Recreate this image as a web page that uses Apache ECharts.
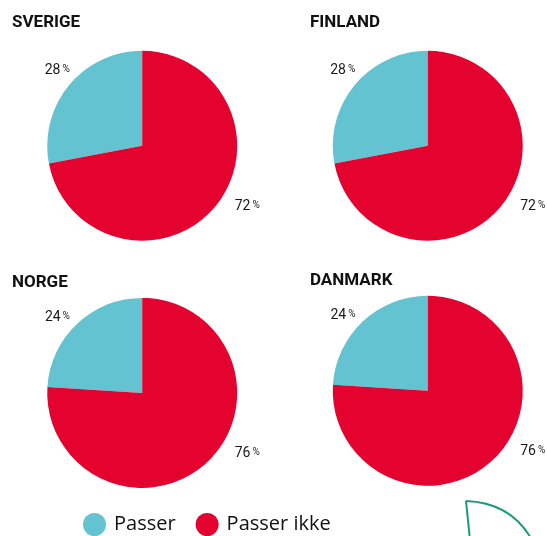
<!DOCTYPE html>
<html>
<head>
<meta charset="utf-8">
<style>
  html, body { margin: 0; padding: 0; background: #ffffff; }
  #chart { width: 547px; height: 536px; }
</style>
<script src="https://cdn.jsdelivr.net/npm/echarts@6/dist/echarts.min.js"></script>
</head>
<body>
<div id="chart"></div>
<script>
// Share of respondents per country
const countries = ['SVERIGE', 'FINLAND', 'NORGE', 'DANMARK'];
const passer = [28, 28, 24, 24];
const passerIkke = [72, 72, 76, 76];
const categories = ['Passer', 'Passer ikke'];

const colors = { 'Passer': '#63c3d1', 'Passer ikke': '#e4032e' };
const centers = [['26%', '27.2%'], ['78.2%', '27.2%'], ['26%', '73.3%'], ['78.2%', '72.9%']];
const titlePos = [[12, 14], [310, 14], [12, 274], [310, 272]];

const chart = echarts.init(document.getElementById('chart'), null, { renderer: 'canvas' });

const labelStyle = {
  show: true,
  position: 'outside',
  overflow: 'none',
  formatter: p => '{v|' + p.value + '}{p|%}',
  rich: {
    v: { fontFamily: 'Roboto', fontSize: 14, color: '#1a1a1a' },
    p: { fontFamily: 'Roboto', fontSize: 10, color: '#1a1a1a', padding: [0, 0, 2, 2] }
  }
};

// Small share sits near the top-left corner of its slice, large share
// beside the lower-right edge of the pie.
function placeLabel(params) {
  const r = params.rect;
  if (params.dataIndex === 0) {
    return { x: r.x + 10, y: r.y + 20, align: 'center', verticalAlign: 'middle' };
  }
  return { x: r.x + r.width + 10, y: r.y + r.height - 34, align: 'center', verticalAlign: 'middle' };
}

const series = countries.map((c, i) => ({
  type: 'pie',
  name: c,
  center: centers[i],
  radius: 95,
  startAngle: 90,
  clockwise: false,
  silent: true,
  animation: false,
  label: labelStyle,
  labelLine: { show: false },
  labelLayout: placeLabel,
  itemStyle: { borderWidth: 0 },
  data: [
    { name: categories[0], value: passer[i], itemStyle: { color: colors['Passer'] } },
    { name: categories[1], value: passerIkke[i], itemStyle: { color: colors['Passer ikke'] } }
  ]
}));

chart.setOption({
  backgroundColor: '#ffffff',
  title: countries.map((c, i) => ({
    text: c,
    left: titlePos[i][0],
    top: titlePos[i][1],
    padding: 0,
    textStyle: { fontFamily: 'Roboto', fontWeight: 'bold', fontSize: 17, color: '#111111' }
  })),
  legend: {
    data: categories,
    left: 83,
    top: 513,
    padding: 0,
    icon: 'circle',
    itemWidth: 23,
    itemHeight: 23,
    itemGap: 20,
    textStyle: { fontFamily: 'Open Sans', fontSize: 20, color: '#111111', padding: [0, 0, 0, 3] },
    selectedMode: false
  },
  graphic: [
    {
      type: 'line',
      silent: true,
      shape: { x1: 466, y1: 501, x2: 470, y2: 540 },
      style: { stroke: '#1a9a7a', lineWidth: 2 }
    },
    {
      type: 'bezierCurve',
      silent: true,
      shape: { x1: 466, y1: 501, cpx1: 495, cpy1: 502, cpx2: 518, cpy2: 515, x2: 532, y2: 540 },
      style: { fill: 'none', stroke: '#1a9a7a', lineWidth: 2 }
    }
  ],
  series: series
});
</script>
</body>
</html>
